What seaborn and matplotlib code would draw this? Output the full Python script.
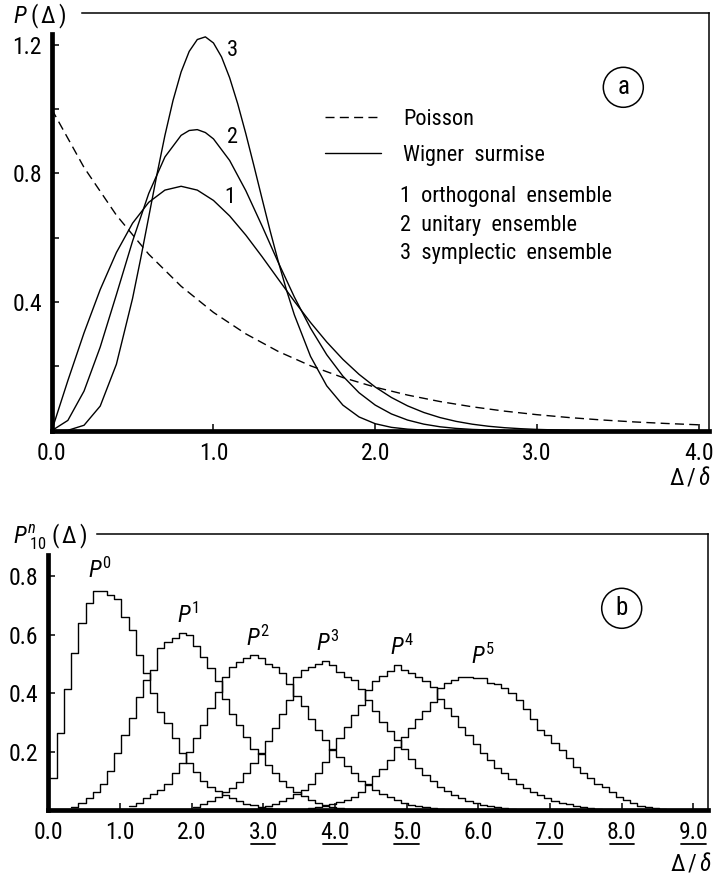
import numpy as np
import pandas as pd
import matplotlib
matplotlib.use('Agg')
import matplotlib.pyplot as plt
import matplotlib.transforms as mtransforms
from matplotlib import font_manager
import seaborn as sns

# ---------------- data ----------------
# panel (a)
poisson_x = [0.0, 0.2, 0.4, 0.6, 0.8, 1.0, 1.2, 1.4, 1.6, 1.8, 2.0, 2.2, 2.4, 2.6, 2.8,
             3.0, 3.2, 3.4, 3.6, 3.8, 4.0]
poisson_y = [1.0, 0.8187, 0.6703, 0.5488, 0.4493, 0.3679, 0.3012, 0.2466, 0.2019, 0.1653,
             0.1353, 0.1108, 0.0907, 0.0743, 0.0608, 0.0498, 0.0408, 0.0334, 0.0273, 0.0224,
             0.0183]

goe_x = [0.0, 0.1, 0.2, 0.3, 0.4, 0.5, 0.6, 0.7, 0.8, 0.9, 1.0, 1.1, 1.2, 1.3, 1.4, 1.5,
         1.6, 1.7, 1.8, 1.9, 2.0, 2.1, 2.2, 2.3, 2.4, 2.5, 2.6, 2.7, 2.8, 2.9, 3.0, 3.1, 3.2]
goe_y = [0.0, 0.1559, 0.3044, 0.4391, 0.5541, 0.6454, 0.7104, 0.7483, 0.7602, 0.7483,
         0.7162, 0.6680, 0.6083, 0.5415, 0.4718, 0.4026, 0.3366, 0.2760, 0.2219, 0.1752,
         0.1358, 0.1033, 0.0772, 0.0567, 0.0409, 0.0290, 0.0202, 0.0138, 0.0093, 0.0062,
         0.0040, 0.0026, 0.0016]

gue_x = [0.0, 0.1, 0.2, 0.3, 0.4, 0.5, 0.6, 0.7, 0.8, 0.85, 0.9, 0.95, 1.0, 1.1, 1.2, 1.3,
         1.4, 1.5, 1.6, 1.7, 1.8, 1.9, 2.0, 2.1, 2.2, 2.3, 2.4, 2.5, 2.6, 2.7, 2.8]
gue_y = [0.0, 0.0320, 0.1233, 0.2602, 0.4232, 0.5896, 0.7380, 0.8514, 0.9186, 0.9337,
         0.9364, 0.9273, 0.9076, 0.8405, 0.7465, 0.6372, 0.5240, 0.4158, 0.3188, 0.2364,
         0.1697, 0.1180, 0.0796, 0.0521, 0.0331, 0.0204, 0.0122, 0.0071, 0.0040, 0.0022,
         0.0012]

gse_x = [0.0, 0.1, 0.2, 0.3, 0.4, 0.5, 0.55, 0.6, 0.65, 0.7, 0.75, 0.8, 0.85, 0.9, 0.95,
         1.0, 1.05, 1.1, 1.15, 1.2, 1.25, 1.3, 1.35, 1.4, 1.45, 1.5, 1.6, 1.7, 1.8, 1.9,
         2.0, 2.1, 2.2, 2.3, 2.4]
gse_y = [0.0, 0.0011, 0.0169, 0.0766, 0.2067, 0.4116, 0.5351, 0.6653, 0.7955, 0.9185,
         1.0271, 1.1157, 1.1797, 1.2166, 1.2249, 1.2059, 1.1624, 1.0977, 1.0166, 0.9237,
         0.8242, 0.7224, 0.6221, 0.5275, 0.4397, 0.3603, 0.2311, 0.1396, 0.0795, 0.0427,
         0.0217, 0.0104, 0.0048, 0.0020, 0.0008]

# panel (b): histograms P^n_10, bin width 0.1, first bin left edge given
bin_width = 0.1
p0_left = 0.02
p0_vals = [0.108, 0.262, 0.413, 0.536, 0.640, 0.707, 0.750, 0.750, 0.735, 0.720, 0.661,
           0.615, 0.530, 0.470, 0.400, 0.336, 0.296, 0.245, 0.194, 0.160, 0.130, 0.100,
           0.080, 0.065, 0.050, 0.040, 0.030, 0.022, 0.016, 0.011, 0.007, 0.004]
p1_left = 0.32
p1_vals = [0.010, 0.025, 0.040, 0.060, 0.090, 0.135, 0.195, 0.255, 0.315, 0.385, 0.445,
           0.480, 0.555, 0.575, 0.590, 0.605, 0.598, 0.560, 0.525, 0.485, 0.440, 0.380,
           0.330, 0.290, 0.250, 0.210, 0.190, 0.155, 0.125, 0.100, 0.080, 0.063, 0.047,
           0.035, 0.025, 0.017, 0.011, 0.007, 0.004]
p2_left = 1.12
p2_vals = [0.012, 0.025, 0.040, 0.055, 0.070, 0.090, 0.125, 0.160, 0.200, 0.245, 0.290,
           0.350, 0.405, 0.455, 0.490, 0.505, 0.520, 0.530, 0.520, 0.500, 0.490, 0.470,
           0.430, 0.390, 0.355, 0.310, 0.275, 0.240, 0.205, 0.180, 0.150, 0.125, 0.100,
           0.085, 0.068, 0.055, 0.043, 0.033, 0.025, 0.018, 0.013, 0.009, 0.006, 0.004]
p3_left = 2.02
p3_vals = [0.010, 0.020, 0.030, 0.045, 0.060, 0.075, 0.095, 0.125, 0.160, 0.195, 0.235,
           0.280, 0.330, 0.375, 0.455, 0.478, 0.490, 0.500, 0.510, 0.495, 0.473, 0.456,
           0.444, 0.415, 0.375, 0.340, 0.300, 0.270, 0.240, 0.210, 0.175, 0.145, 0.120,
           0.098, 0.080, 0.064, 0.051, 0.040, 0.031, 0.024, 0.018, 0.013, 0.009, 0.006,
           0.004]
p4_left = 2.92
p4_vals = [0.008, 0.015, 0.022, 0.030, 0.040, 0.055, 0.070, 0.090, 0.125, 0.165, 0.210,
           0.245, 0.285, 0.325, 0.360, 0.410, 0.440, 0.460, 0.475, 0.495, 0.480, 0.470,
           0.455, 0.440, 0.420, 0.380, 0.350, 0.320, 0.285, 0.255, 0.225, 0.195, 0.170,
           0.145, 0.125, 0.105, 0.090, 0.075, 0.062, 0.050, 0.040, 0.032, 0.025, 0.019,
           0.014, 0.010, 0.007, 0.005]
p5_left = 3.62
p5_vals = [0.006, 0.010, 0.015, 0.020, 0.027, 0.035, 0.045, 0.060, 0.090, 0.115, 0.140,
           0.170, 0.215, 0.250, 0.280, 0.310, 0.340, 0.370, 0.416, 0.433, 0.444, 0.456,
           0.456, 0.450, 0.452, 0.435, 0.432, 0.416, 0.399, 0.376, 0.345, 0.310, 0.275,
           0.255, 0.228, 0.205, 0.177, 0.148, 0.125, 0.108, 0.090, 0.078, 0.063, 0.046,
           0.035, 0.024, 0.015, 0.010, 0.006, 0.003]

top_xticks = [0.0, 1.0, 2.0, 3.0, 4.0]
top_xlabels = ['0.0', '1.0', '2.0', '3.0', '4.0']
top_yticks = [0.4, 0.8, 1.2]
top_yminor = [0.2, 0.6, 1.0]
bot_xticks = [0, 1, 2, 3, 4, 5, 6, 7, 8, 9]
bot_xlabels = ['0.0', '1.0', '2.0', '3.0', '4.0', '5.0', '6.0', '7.0', '8.0', '9.0']
bot_underlined = [3, 4, 5, 7, 8, 9]
bot_yticks = [0.2, 0.4, 0.6, 0.8]
hist_names = ['0', '1', '2', '3', '4', '5']
hist_label_x = [0.72, 1.95, 2.93, 3.90, 4.93, 6.07]
hist_label_y = [0.82, 0.667, 0.587, 0.57, 0.558, 0.524]

# ---------------- style ----------------
sns.set_theme(style='white')


def pick_font():
    flist = font_manager.fontManager.ttflist
    names = {f.name for f in flist}
    for nm in ['Liberation Sans Narrow', 'Roboto Condensed', 'Open Sans Condensed',
               'Noto Sans Condensed', 'DejaVu Sans Condensed', 'Arial Narrow']:
        if nm in names:
            return nm, 'normal'
    for f in flist:
        if ('Narrow' in f.name or 'Condensed' in f.name) and 'Mono' not in f.name \
                and 'Serif' not in f.name:
            return f.name, 'normal'
    for f in flist:
        if f.name == 'DejaVu Sans' and str(f.stretch) in ('condensed', 'semi-condensed',
                                                          '75', '87'):
            return 'DejaVu Sans', 'condensed'
    return 'Liberation Sans', 'normal'


main_font, stretch = pick_font()
plt.rcParams['font.family'] = [main_font, 'DejaVu Sans']
plt.rcParams['font.stretch'] = stretch
plt.rcParams['mathtext.fontset'] = 'custom'
suffix = ':stretch=condensed' if stretch == 'condensed' else ''
plt.rcParams['mathtext.rm'] = main_font + suffix
plt.rcParams['mathtext.it'] = main_font + ':italic' + suffix
plt.rcParams['mathtext.bf'] = main_font + ':bold' + suffix
plt.rcParams['mathtext.sf'] = main_font + suffix
for k in ['text.color', 'axes.labelcolor', 'xtick.color', 'ytick.color', 'axes.edgecolor']:
    plt.rcParams[k] = 'black'

FS = 16
TFS = 17
LW = 1.0

fig = plt.figure(figsize=(7.13, 8.77), dpi=100)
ax1 = fig.add_axes([0.0725, 0.5089, 0.9948 - 0.0725, 0.9855 - 0.5089])
ax2 = fig.add_axes([0.0677, 0.0764, 0.9926 - 0.0677, 0.3911 - 0.0764])

# ---------------- panel (a) ----------------
sns.lineplot(x=poisson_x, y=poisson_y, ax=ax1, color='black', lw=LW,
             linestyle=(0, (6.5, 3.8)))
sns.lineplot(x=goe_x, y=goe_y, ax=ax1, color='black', lw=LW)
sns.lineplot(x=gue_x, y=gue_y, ax=ax1, color='black', lw=LW)
sns.lineplot(x=gse_x, y=gse_y, ax=ax1, color='black', lw=LW)
lines = ax1.get_lines()

ax1.set_xlim(0, 4.065)
ax1.set_ylim(0, 1.30)
ax1.set_xticks(top_xticks)
ax1.set_xticklabels(top_xlabels)
ax1.set_yticks(top_yticks)
ax1.set_yticklabels([f'{v:.1f}' for v in top_yticks])
ax1.set_yticks(top_yminor, minor=True)
ax1.set_xlabel('')
ax1.set_ylabel('')

ax1.legend(handles=[lines[0], lines[1]], labels=['Poisson', 'Wigner  surmise'],
           loc='upper left', bbox_to_anchor=(0.4156, 0.769), frameon=False,
           handlelength=2.5, handletextpad=1.0, labelspacing=0.65,
           fontsize=FS, borderaxespad=0, borderpad=0)

for i, txt in enumerate(['1  orthogonal  ensemble', '2  unitary  ensemble',
                         '3  symplectic  ensemble']):
    ax1.text(0.530, [0.560, 0.492, 0.425][i], txt, transform=ax1.transAxes,
             fontsize=FS, ha='left', va='center')

for lab, xx, yy in [('1', 1.10, 0.726), ('2', 1.115, 0.913), ('3', 1.12, 1.183)]:
    ax1.text(xx, yy, lab, fontsize=FS, ha='center', va='center')

# ---------------- panel (b) ----------------
hists = [(p0_left, p0_vals), (p1_left, p1_vals), (p2_left, p2_vals),
         (p3_left, p3_vals), (p4_left, p4_vals), (p5_left, p5_vals)]
for left, vals in hists:
    vals = np.asarray(vals, dtype=float)
    edges = left + bin_width * np.arange(len(vals) + 1)
    df = pd.DataFrame({'spacing': edges[:-1] + bin_width / 2, 'w': vals})
    sns.histplot(data=df, x='spacing', weights='w', bins=list(edges), element='step',
                 fill=False, color='black', linewidth=LW, ax=ax2)

ax2.set_xlim(0, 9.2)
ax2.set_ylim(0, 0.944)
ax2.set_xticks(bot_xticks)
ax2.set_xticklabels(bot_xlabels)
ax2.set_yticks(bot_yticks)
ax2.set_yticklabels([f'{v:.1f}' for v in bot_yticks])
ax2.set_xlabel('')
ax2.set_ylabel('')

for name, xx, yy in zip(hist_names, hist_label_x, hist_label_y):
    ax2.text(xx, yy, r'$P^{%s}$' % name, fontsize=FS + 1, ha='center', va='center')

blend = mtransforms.blended_transform_factory(ax2.transData, ax2.transAxes)
for t in bot_underlined:
    ax2.plot([t - 0.17, t + 0.17], [-0.125, -0.125], transform=blend, color='black',
             lw=1.3, clip_on=False)

# ---------------- common frame styling ----------------
for ax, xr, ytop in [(ax1, (0.185, 4.065), 1.235), (ax2, (0.68, 9.2), 0.872)]:
    for s in ['left', 'bottom']:
        ax.spines[s].set_linewidth(3.4)
        ax.spines[s].set_color('black')
    for s in ['top', 'right']:
        ax.spines[s].set_linewidth(1.1)
        ax.spines[s].set_color('black')
    ax.spines['top'].set_bounds(*xr)
    ax.spines['left'].set_bounds(0, ytop)
    ax.tick_params(axis='both', which='both', direction='in', length=5, width=1.1,
                   colors='black', labelsize=TFS, bottom=True, left=True, top=False,
                   right=False)
    ax.tick_params(axis='y', which='both', pad=7)
    ax.tick_params(axis='x', which='both', pad=8)
    ax.grid(False)
    ax.set_facecolor('white')

# panel labels
fig.text(13 / 713, 1 - 16 / 877, r'$P\;(\,\Delta\,)$', fontsize=FS + 1, ha='left',
         va='center')
fig.text(13 / 713, 1 - 537 / 877, r'$P^{n}_{\ 10}\;(\,\Delta\,)$', fontsize=FS + 1,
         ha='left', va='center')
fig.text(690 / 713, 1 - 477 / 877, r'$\Delta\,/\,\delta$', fontsize=FS + 1, ha='center',
         va='center')
fig.text(691 / 713, 1 - 864 / 877, r'$\Delta\,/\,\delta$', fontsize=FS + 1, ha='center',
         va='center')
circ = dict(boxstyle='circle,pad=0.32', fc='white', ec='black', lw=1.1)
fig.text(623.3 / 713, 1 - 87.3 / 877, 'a', fontsize=FS + 2, ha='center', va='center',
         bbox=circ)
fig.text(621.7 / 713, 1 - 608.3 / 877, 'b', fontsize=FS + 2, ha='center', va='center',
         bbox=circ)

fig.savefig('out.png', dpi=100, facecolor='white')
print('font used:', main_font, stretch)
